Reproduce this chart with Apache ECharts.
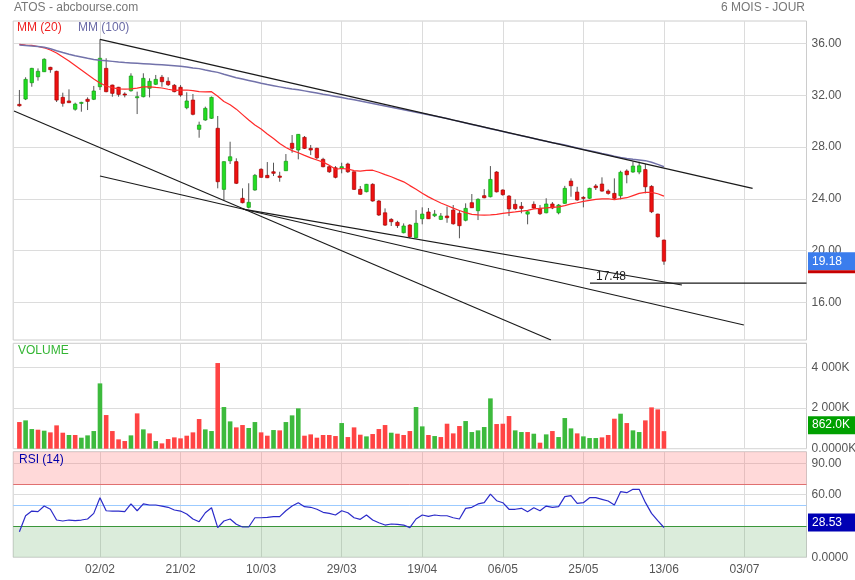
<!DOCTYPE html>
<html>
<head>
<meta charset="utf-8">
<script src="https://cdn.jsdelivr.net/npm/echarts/dist/echarts.min.js"></script>
<style>html,body{margin:0;padding:0;background:#fff}#chart{width:855px;height:580px}</style>
</head>
<body>
<div id="chart"></div>
<script>
// ---------- DATA ----------
const tickIdx = [13, 26, 39, 52, 65, 78, 91, 104, 117];
const tickLabels = ['02/02', '21/02', '10/03', '29/03', '19/04', '06/05', '25/05', '13/06', '03/07'];

const opens = [31.30,31.71,32.97,33.43,33.82,34.16,33.85,31.84,31.56,30.92,
31.43,31.69,31.69,32.66,34.08,32.79,32.62,32.10,32.35,31.81,
31.89,32.54,32.85,33.39,33.08,32.77,32.62,31.04,31.63,29.37,
30.09,30.22,29.45,24.73,26.94,26.87,24.04,23.34,24.68,26.28,
25.81,26.09,25.76,26.17,28.29,27.77,28.75,27.90,27.90,27.05,
26.48,26.40,26.35,26.69,26.09,24.73,24.55,25.12,23.83,22.92,
22.41,22.18,21.38,21.97,20.99,22.46,22.98,22.69,22.41,22.67,
23.13,22.88,22.34,23.70,23.08,24.24,24.16,26.07,24.68,24.21,
23.57,23.42,22.82,23.57,23.26,22.92,23.60,22.92,23.65,25.37,
24.52,24.11,24.04,24.99,25.14,24.60,24.42,24.24,26.15,26.07,
26.07,26.26,24.96,22.82,20.81];
const closes = [31.19,33.23,34.08,33.85,34.78,33.98,31.63,31.38,31.43,31.32,
31.45,31.53,32.33,34.86,32.28,32.15,32.07,32.04,33.49,31.89,
33.31,33.08,33.23,33.05,32.82,32.28,32.02,31.56,30.53,29.70,
30.99,31.84,25.32,26.87,27.25,25.20,23.70,23.73,25.81,25.66,
25.63,25.97,25.66,26.90,27.90,28.98,27.90,27.77,27.17,26.48,
26.09,25.66,26.48,26.09,24.73,24.35,25.12,23.83,22.75,21.97,
22.23,21.93,21.90,21.07,22.11,22.82,22.46,22.82,22.67,22.54,
22.07,21.92,23.26,23.31,23.96,24.08,25.50,24.54,24.32,23.22,
23.24,23.26,23.00,23.29,22.85,23.60,23.29,23.52,24.81,25.01,
23.91,24.06,24.81,24.86,24.60,24.42,24.04,26.05,25.86,26.53,
26.55,24.93,23.00,21.07,19.18];
const lows = [31.12,31.63,32.66,33.13,33.80,33.74,31.48,31.12,31.40,30.81,
30.73,30.86,31.63,32.41,32.23,31.89,31.89,31.84,32.28,30.55,
31.84,31.84,32.79,32.66,32.72,32.23,31.89,30.92,30.45,28.72,
30.03,30.18,24.81,23.91,26.69,25.14,23.65,23.26,24.62,25.63,
25.60,25.76,25.32,26.15,27.56,27.05,27.85,27.38,27.05,26.43,
26.00,25.58,25.97,26.00,24.68,24.30,24.50,23.78,22.67,21.90,
21.90,21.75,21.33,20.95,20.95,22.03,22.44,22.59,22.36,22.15,
22.00,20.95,22.26,23.29,22.36,24.04,24.11,24.49,24.24,22.67,
23.13,22.88,22.03,23.21,22.75,22.88,23.20,22.80,23.60,24.16,
23.85,23.34,23.99,24.68,24.55,24.32,23.91,23.96,25.20,26.01,
25.90,24.42,22.90,21.00,18.90];
const highs = [32.41,33.39,34.12,34.08,34.86,34.20,33.90,32.20,32.46,31.43,
31.50,31.84,32.72,36.32,34.86,32.82,32.65,32.23,33.70,32.28,
33.70,33.31,33.57,33.57,33.39,32.87,32.79,32.23,32.10,29.96,
31.12,31.90,30.40,26.90,28.41,27.13,24.81,25.20,25.92,26.36,
26.84,26.79,26.09,27.46,28.93,29.00,28.85,28.16,27.95,27.17,
26.60,26.53,26.79,26.79,26.10,24.99,25.15,25.20,23.90,23.26,
22.50,22.30,22.10,22.05,23.13,23.34,23.29,23.13,22.90,23.40,
23.52,23.13,23.65,24.37,24.04,24.75,26.53,26.14,24.73,24.29,
23.95,23.75,23.05,23.80,23.52,24.04,23.75,23.60,25.00,25.58,
24.93,24.21,24.86,25.14,25.66,24.73,25.58,26.17,26.28,26.87,
26.87,26.69,25.05,22.85,20.85];
// volume in thousands of shares
const volumes = [1310,1392,966,934,885,803,1147,786,672,672,
541,655,868,3210,1654,868,459,377,655,1736,
950,753,377,262,475,557,508,639,803,1458,
950,868,4210,2048,1343,1048,1163,1016,1310,803,
639,917,901,1310,1638,1982,639,704,541,672,
672,622,1261,573,1048,688,606,721,966,1163,
786,737,672,868,2048,1097,672,622,573,1228,
753,1114,1359,819,901,1065,2473,1212,1228,1605,
901,819,819,737,295,704,868,573,1507,999,
753,606,524,524,557,672,1474,1720,1261,901,
819,1392,2031,1933,862];
// MM(20) values before a full 20-day window exists in the shown data
const ma20Head = [35.94,35.88,35.85,35.77,35.67,35.50,35.27,34.96,34.65,34.30,
33.95,33.60,33.26,32.95,32.72,32.58,32.50,32.48,32.50];
const ma100 = [35.88,35.85,35.81,35.77,35.71,35.60,35.44,35.30,35.17,35.06,
34.96,34.86,34.77,34.70,34.66,34.62,34.57,34.53,34.50,34.47,
34.44,34.41,34.38,34.35,34.32,34.29,34.25,34.18,34.11,34.06,
33.95,33.85,33.77,33.62,33.49,33.36,33.26,33.15,33.04,32.93,
32.83,32.74,32.65,32.56,32.48,32.42,32.34,32.26,32.17,32.08,
32.00,31.91,31.82,31.73,31.65,31.56,31.46,31.36,31.26,31.17,
31.07,30.98,30.88,30.78,30.69,30.59,30.50,30.40,30.30,30.20,
30.08,29.97,29.86,29.75,29.64,29.53,29.42,29.32,29.20,29.09,
28.98,28.87,28.77,28.66,28.54,28.44,28.34,28.26,28.16,28.04,
27.93,27.82,27.72,27.61,27.50,27.40,27.29,27.19,27.11,27.05,
27.00,26.95,26.83,26.66,26.48];
const rsi14 = [24.5,39.8,44.3,43.7,49.1,46.0,35.7,34.8,35.7,35.1,
35.7,36.7,42.1,57.1,44.6,44.3,44.3,43.7,51.1,44.6,
51.1,50.1,50.1,49.1,47.9,45.3,44.3,41.5,36.7,34.1,
42.7,47.5,28.4,34.8,36.7,31.6,29.0,29.0,37.9,37.9,
38.3,38.9,38.9,44.6,49.1,52.3,48.5,47.9,46.0,43.1,
42.1,40.5,44.6,42.7,37.9,36.4,40.5,35.7,33.1,30.9,
31.9,31.6,30.9,28.4,36.7,40.5,39.2,40.5,39.8,39.8,
37.9,36.7,46.9,47.9,51.1,52.3,60.6,54.2,52.3,46.0,
46.0,46.9,43.7,47.5,44.6,49.1,47.9,48.5,58.1,59.0,
51.7,52.3,57.1,57.1,55.5,53.9,50.1,62.9,61.9,65.1,
65.1,52.6,42.1,35.1,28.53];
// trend lines drawn on the chart: [dayIndex, price] end points
const trendLines = [
  [[13.0, 36.32], [118.3, 24.81]],
  [[-0.87, 30.78], [85.77, 13.09]],
  [[13.0, 25.76], [116.9, 14.25]],
  [[36.08, 23.21], [106.9, 17.34]]
];
const supportLevel = 17.48, supportFrom = 92.06, supportTo = 127.0;
const priceTicks = [16, 20, 24, 28, 32, 36];
const volTicks = [0, 2000, 4000];
const rsiTicks = [0, 60, 90];
const rsiHigh = 70, rsiMid = 50, rsiLow = 30;

// ---------- AXIS RANGES ----------
const priceMin = 13.09, priceMax = 37.74;
const volMax = 5180;
const rsiMax = 101.15;
const NCAT = 129;           // slots on the time axis (data + future space)

const FONT = '"Liberation Sans", Arial, Helvetica, sans-serif';
const GRID_L = 13.2, GRID_R = 48.5;

const cats = [];
for (let c = 0; c < NCAT; c++) cats.push('s' + c);
tickIdx.forEach((t, k) => { cats[t + 1] = tickLabels[k]; });
const tickCats = tickIdx.map(t => t + 1);
const isTick = (i) => tickCats.indexOf(i) >= 0;

const N = closes.length;
const ma20 = closes.map((c, i) => {
  if (i < 19) return ma20Head[i];
  let s = 0; for (let k = i - 19; k <= i; k++) s += closes[k];
  return s / 20;
});

const grid = (top, height) => ({
  left: GRID_L, right: GRID_R, top: top, height: height,
  show: true, borderColor: '#cccccc', borderWidth: 1,
  backgroundColor: 'rgba(0,0,0,0)', containLabel: false, outerBoundsMode: 'none'
});

function catAxis(gi, showLabels) {
  return {
    type: 'category', gridIndex: gi, data: cats, boundaryGap: false,
    axisLine: { show: false }, axisTick: { show: false },
    axisLabel: showLabels ? {
      show: true, interval: (i) => isTick(i), color: '#555', fontSize: 12,
      fontFamily: FONT, margin: 6
    } : { show: false },
    splitLine: { show: true, interval: (i) => isTick(i), lineStyle: { color: '#dcdcdc', width: 1 } }
  };
}
const labelStyle = { color: '#555', fontSize: 12, fontFamily: FONT, margin: 5 };

function valAxis(gi, min, max, ticks, fmt) {
  return {
    type: 'value', gridIndex: gi, position: 'right', min: min, max: max,
    axisLine: { show: false },
    axisTick: { show: false, customValues: ticks },
    axisLabel: Object.assign({ customValues: ticks, formatter: fmt }, labelStyle),
    splitLine: { show: true, lineStyle: { color: '#dcdcdc', width: 1 } }
  };
}
function tagAxis(gi, min, max, value, text, bg, spacerTop, spacerBottom, strip) {
  const rich = {
    a: { backgroundColor: bg, color: '#fff', fontSize: 12, fontFamily: FONT,
         width: 39, height: 18, lineHeight: 18, padding: [0, 4, 0, 4] },
    t: { height: spacerTop, lineHeight: spacerTop, fontSize: 1 },
    b: { height: spacerBottom, lineHeight: spacerBottom, fontSize: 1 },
    r: { backgroundColor: '#c80000', width: 47, height: 3, lineHeight: 3, fontSize: 1 }
  };
  return {
    type: 'value', gridIndex: gi, position: 'right', min: min, max: max,
    axisLine: { show: false }, axisTick: { show: false }, splitLine: { show: false },
    axisLabel: {
      customValues: [value], margin: 1.5,
      formatter: () => (spacerTop ? '{t| }\n' : '') + '{a|' + text + '}' +
        (strip ? '\n{r| }' : '') + (spacerBottom ? '\n{b| }' : ''),
      rich: rich
    }
  };
}

const lastClose = closes[N - 1], lastVol = volumes[N - 1], lastRsi = rsi14[N - 1];

const UP = '#22dd22', UP_B = '#159a15', DN = '#ee1111', DN_B = '#a80000';
const VUP = '#3dba3d', VDN = '#ff4444';

const series = [];
series.push({
  type: 'custom', name: 'ATOS', xAxisIndex: 0, yAxisIndex: 0, clip: true, silent: true,
  data: closes.map((c, i) => [i + 1, opens[i], c, lows[i], highs[i]]),
  encode: { x: 0, y: [1, 2, 3, 4] },
  renderItem: function (params, api) {
    const x = api.value(0), o = api.value(1), c = api.value(2), l = api.value(3), h = api.value(4);
    const pO = api.coord([x, o]), pC = api.coord([x, c]), pL = api.coord([x, l]), pH = api.coord([x, h]);
    const up = c >= o;
    const bw = 3.4;
    const top = Math.min(pO[1], pC[1]);
    const hh = Math.max(Math.abs(pO[1] - pC[1]), 1);
    return {
      type: 'group', children: [
        { type: 'line', shape: { x1: pH[0], y1: pH[1], x2: pL[0], y2: pL[1] },
          style: { stroke: '#555', lineWidth: 1 } },
        { type: 'rect', shape: { x: pO[0] - bw / 2, y: top, width: bw, height: hh },
          style: { fill: up ? UP : DN, stroke: up ? UP_B : DN_B, lineWidth: 0.7 } }
      ]
    };
  }
});
series.push({
  type: 'line', name: 'MM (20)', xAxisIndex: 0, yAxisIndex: 0, showSymbol: false, silent: true,
  data: ma20.map((v, i) => [i + 1, v]), lineStyle: { color: '#ff2a2a', width: 1.2 }, z: 4
});
series.push({
  type: 'line', name: 'MM (100)', xAxisIndex: 0, yAxisIndex: 0, showSymbol: false, silent: true,
  data: ma100.map((v, i) => [i + 1, v]), lineStyle: { color: '#7272aa', width: 1.5 }, z: 4
});
trendLines.forEach((seg) => {
  series.push({
    type: 'line', xAxisIndex: 3, yAxisIndex: 0, showSymbol: false, silent: true, clip: true,
    data: seg.map(p => [p[0] + 1, p[1]]), lineStyle: { color: '#1a1a1a', width: 1.2 }, z: 5
  });
});
series.push({
  type: 'line', xAxisIndex: 3, yAxisIndex: 0, silent: true, clip: true,
  symbol: 'circle', symbolSize: 0, showSymbol: true,
  data: [
    { value: [supportFrom + 1, supportLevel],
      label: { show: true, formatter: () => supportLevel.toFixed(2), position: [6, -13],
               color: '#222', fontSize: 12, fontFamily: FONT } },
    { value: [supportTo + 1, supportLevel], label: { show: false } }
  ],
  lineStyle: { color: '#1a1a1a', width: 1.2 }, z: 5
});
series.push({
  type: 'bar', name: 'VOLUME', xAxisIndex: 1, yAxisIndex: 1, barWidth: 4.6, silent: true,
  data: volumes.map((v, i) => {
    const up = i > 0 ? closes[i] >= closes[i - 1] : closes[0] >= opens[0];
    return { value: [i + 1, v], itemStyle: { color: up ? VUP : VDN } };
  })
});
series.push({
  type: 'line', name: 'RSI (14)', xAxisIndex: 2, yAxisIndex: 2, showSymbol: false, silent: true,
  data: rsi14.map((v, i) => [i + 1, v]), lineStyle: { color: '#2b2bc9', width: 1.2 }, z: 5,
  markArea: {
    silent: true,
    data: [
      [{ yAxis: rsiHigh, itemStyle: { color: 'rgba(255,120,120,0.28)' } }, { yAxis: rsiMax }],
      [{ yAxis: 0, itemStyle: { color: 'rgba(90,170,90,0.22)' } }, { yAxis: rsiLow }]
    ]
  },
  markLine: {
    silent: true, symbol: 'none', label: { show: false }, animation: false,
    data: [
      { yAxis: rsiHigh, lineStyle: { color: '#e07070', type: 'solid', width: 1 } },
      { yAxis: rsiMid, lineStyle: { color: '#9ccbff', type: 'solid', width: 1 } },
      { yAxis: rsiLow, lineStyle: { color: '#3a963a', type: 'solid', width: 1 } }
    ]
  }
});

const titleStyle = (color) => ({ fontSize: 12, fontWeight: 'normal', color: color, fontFamily: FONT });

const option = {
  animation: false,
  backgroundColor: '#ffffff',
  title: [
    { text: 'ATOS - abcbourse.com', left: 14, top: 2, padding: 0, textStyle: titleStyle('#777') },
    { text: '6 MOIS - JOUR', right: 50, top: 2, padding: 0, textStyle: titleStyle('#777') },
    { text: 'MM (20)', left: 17, top: 22, padding: 0, textStyle: titleStyle('#ee2222') },
    { text: 'MM (100)', left: 78, top: 22, padding: 0, textStyle: titleStyle('#6a6aa6') },
    { text: 'VOLUME', left: 18, top: 345, padding: 0, textStyle: titleStyle('#33b533') },
    { text: 'RSI (14)', left: 19, top: 454, padding: 0, textStyle: titleStyle('#0000aa') }
  ],
  grid: [grid(21, 319), grid(343.3, 105.4), grid(451.7, 105.6)],
  xAxis: [
    catAxis(0, false), catAxis(1, false), catAxis(2, true),
    { type: 'value', gridIndex: 0, min: 0, max: NCAT - 1, show: false }
  ],
  yAxis: [
    valAxis(0, priceMin, priceMax, priceTicks, v => v.toFixed(2)),
    valAxis(1, 0, volMax, volTicks, v => v === 0 ? '0.0000K' : (v / 1000) + ' 000K'),
    valAxis(2, 0, rsiMax, rsiTicks, v => v === 0 ? '0.0000' : v.toFixed(2)),
    tagAxis(0, priceMin, priceMax, lastClose, lastClose.toFixed(2), '#3b7ded', 3, 0, true),
    tagAxis(1, 0, volMax, lastVol, lastVol.toFixed(1) + 'K', '#00a000', 0, 12, false),
    tagAxis(2, 0, rsiMax, lastRsi, lastRsi.toFixed(2), '#0000b4', 0, 10, false)
  ],
  series: series
};

const chart = echarts.init(document.getElementById('chart'), null, { renderer: 'canvas' });
chart.setOption(option);
</script>
</body>
</html>
